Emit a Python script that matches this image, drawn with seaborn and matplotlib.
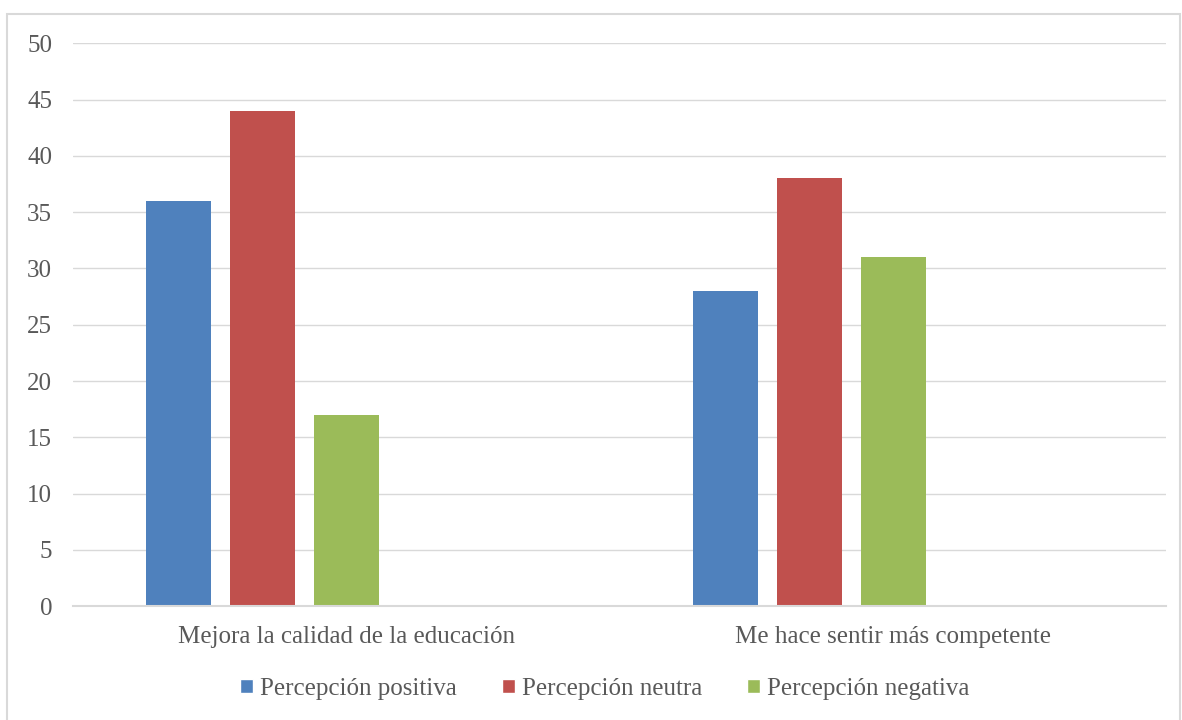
import pandas as pd
import matplotlib.pyplot as plt
import seaborn as sns
import numpy as np
from matplotlib.patches import Rectangle, Patch

categories = ["Mejora la calidad de la educación", "Me hace sentir más competente"]
series = ["Percepción positiva", "Percepción neutra", "Percepción negativa", "Serie 4", "Serie 5"]
positiva = [36, 28]
neutra = [44, 38]
negativa = [17, 31]
serie4 = [0, 0]
serie5 = [0, 0]
colors = ["#4F81BD", "#C0504D", "#9BBB59", "#FFFFFF", "#FFFFFF"]

rows = []
for name, vals in zip(series, [positiva, neutra, negativa, serie4, serie5]):
    for cat, v in zip(categories, vals):
        rows.append({"categoria": cat, "serie": name, "valor": v})
df = pd.DataFrame(rows)

sns.set_style("white")
plt.rcParams["font.family"] = ["Liberation Serif", "DejaVu Serif"]
txt = "#595959"

fig = plt.figure(figsize=(11.82, 7.2), dpi=100)
ax = fig.add_axes([0.0618, 0.158, 0.925, 0.782])

sns.barplot(data=df, x="categoria", y="valor", hue="serie", hue_order=series,
            palette=colors, saturation=1, width=0.768, gap=0.226, linewidth=0,
            errorbar=None, legend=False, ax=ax)

ax.set_ylim(0, 50)
ax.set_yticks(np.arange(0, 51, 5))
ax.set_xlim(-0.5, 1.5)
ax.yaxis.grid(True, color="#D9D9D9", linewidth=1)
ax.set_axisbelow(True)
for s in ["left", "right", "top"]:
    ax.spines[s].set_visible(False)
ax.spines["bottom"].set_color("#D9D9D9")
ax.spines["bottom"].set_linewidth(1.5)
ax.tick_params(axis="y", length=0, pad=15, labelsize=18, labelcolor=txt)
ax.tick_params(axis="x", length=0, pad=14, labelsize=18, labelcolor=txt)
ax.set_xlabel("")
ax.set_ylabel("")

handles = [Patch(facecolor=c, label=n) for c, n in zip(colors[:3], series[:3])]
leg = fig.legend(handles=handles, loc="center", bbox_to_anchor=(0.512, 0.043), ncol=3,
                 frameon=False, fontsize=18, handlelength=0.5, handleheight=0.5,
                 handletextpad=0.3, columnspacing=1.8)
for t in leg.get_texts():
    t.set_color(txt)

fig.patches.append(Rectangle((7 / 1182, -0.01), 1173 / 1182, 0.9906, transform=fig.transFigure,
                             fill=False, edgecolor="#D9D9D9", linewidth=1.5))

fig.savefig("out.png", dpi=100)
